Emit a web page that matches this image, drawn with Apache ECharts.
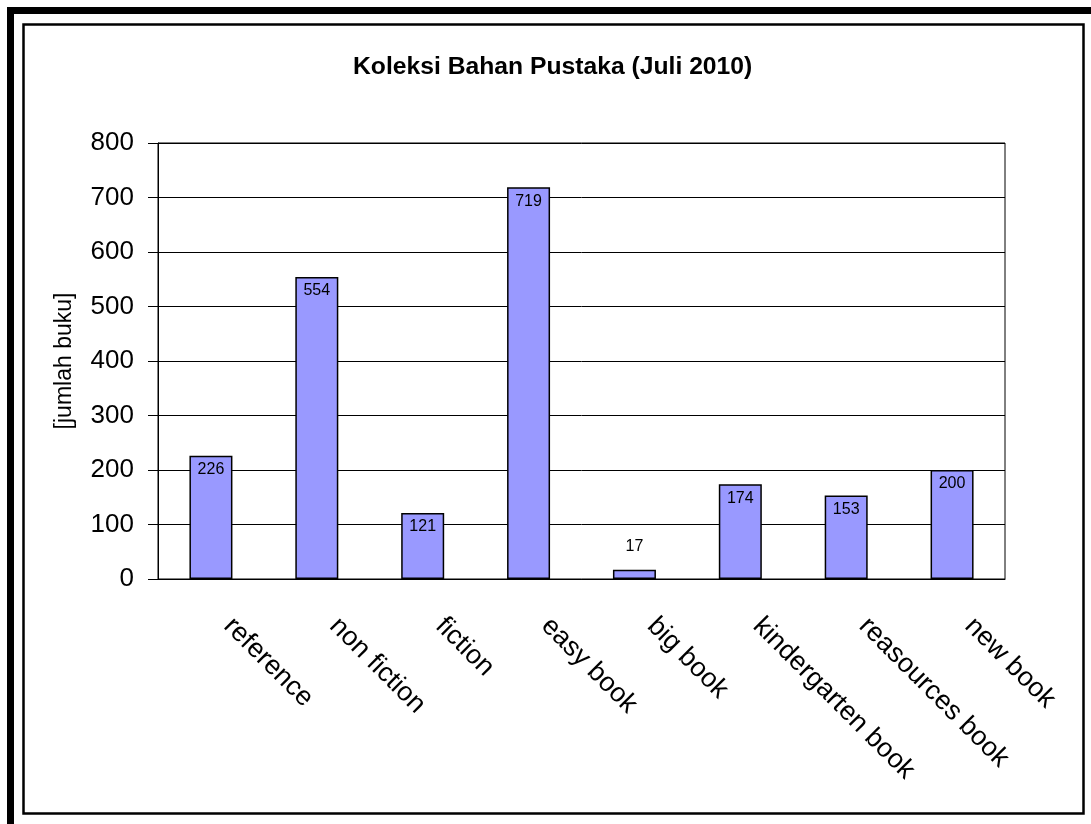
<!DOCTYPE html>
<html>
<head>
<meta charset="utf-8">
<script src="https://cdn.jsdelivr.net/npm/echarts@6/dist/echarts.min.js"></script>
<style>
html,body{margin:0;padding:0;background:#fff;}
#chart{width:1091px;height:824px;}
</style>
</head>
<body>
<div id="chart"></div>
<script>
const categories = ['reference', 'non fiction', 'fiction', 'easy book', 'big book', 'kindergarten book', 'reasources book', 'new book'];
const values = [226, 554, 121, 719, 17, 174, 153, 200];
const yTicks = [0, 100, 200, 300, 400, 500, 600, 700, 800];
const titleText = 'Koleksi Bahan Pustaka (Juli 2010)';
const yAxisName = '[jumlah buku]';

const FONT = '"Liberation Sans", Arial, sans-serif';
const chart = echarts.init(document.getElementById('chart'), null, {renderer: 'canvas'});

const seriesData = values.map(function (v) {
  const item = {value: v};
  if (v < 40) {
    item.label = {position: 'top', distance: 15};
  }
  return item;
});

chart.setOption({
  animation: false,
  backgroundColor: '#ffffff',
  title: {
    text: titleText,
    left: 348,
    top: 50,
    textStyle: {fontFamily: FONT, fontSize: 24.7, fontWeight: 'bold', color: '#000'}
  },
  grid: {
    left: 158, right: 86, top: 143, bottom: 245,
    show: true, borderColor: '#000', borderWidth: 1, backgroundColor: 'transparent'
  },
  xAxis: {
    type: 'category',
    data: categories,
    axisLine: {lineStyle: {color: '#000', width: 1}},
    axisTick: {show: false},
    axisLabel: {
      rotate: -45, interval: 0, margin: 26, color: '#000',
      padding: [0, 0, 0, 24],
      fontFamily: FONT, fontSize: 27
    }
  },
  yAxis: {
    type: 'value',
    min: yTicks[0], max: yTicks[yTicks.length - 1], interval: 100,
    name: yAxisName,
    nameLocation: 'middle',
    nameGap: 82,
    nameRotate: 90,
    nameTextStyle: {fontFamily: FONT, fontSize: 23, color: '#000'},
    axisLine: {show: true, lineStyle: {color: '#000', width: 1}},
    axisTick: {show: true, length: 10, lineStyle: {color: '#000'}},
    axisLabel: {
      margin: 24, color: '#000', fontFamily: FONT, fontSize: 26,
      formatter: function (v) { return yTicks.indexOf(v) >= 0 ? String(v) : ''; }
    },
    splitLine: {show: true, lineStyle: {color: '#000', width: 1}}
  },
  series: [{
    type: 'bar',
    data: seriesData,
    barWidth: 43,
    itemStyle: {color: '#9999FF', borderColor: '#000', borderWidth: 1.5},
    label: {
      show: true, position: 'insideTop', distance: 6,
      color: '#000', fontFamily: FONT, fontSize: 16
    }
  }],
  graphic: [
    {type: 'rect', shape: {x: 7, y: 7, width: 7, height: 817}, style: {fill: '#000'}, silent: true},
    {type: 'rect', shape: {x: 7, y: 7, width: 1084, height: 7}, style: {fill: '#000'}, silent: true},
    {type: 'rect', shape: {x: 23.5, y: 24.5, width: 1060, height: 789}, style: {fill: 'none', stroke: '#000', lineWidth: 2.5}, silent: true, z: -1}
  ]
});
</script>
</body>
</html>
